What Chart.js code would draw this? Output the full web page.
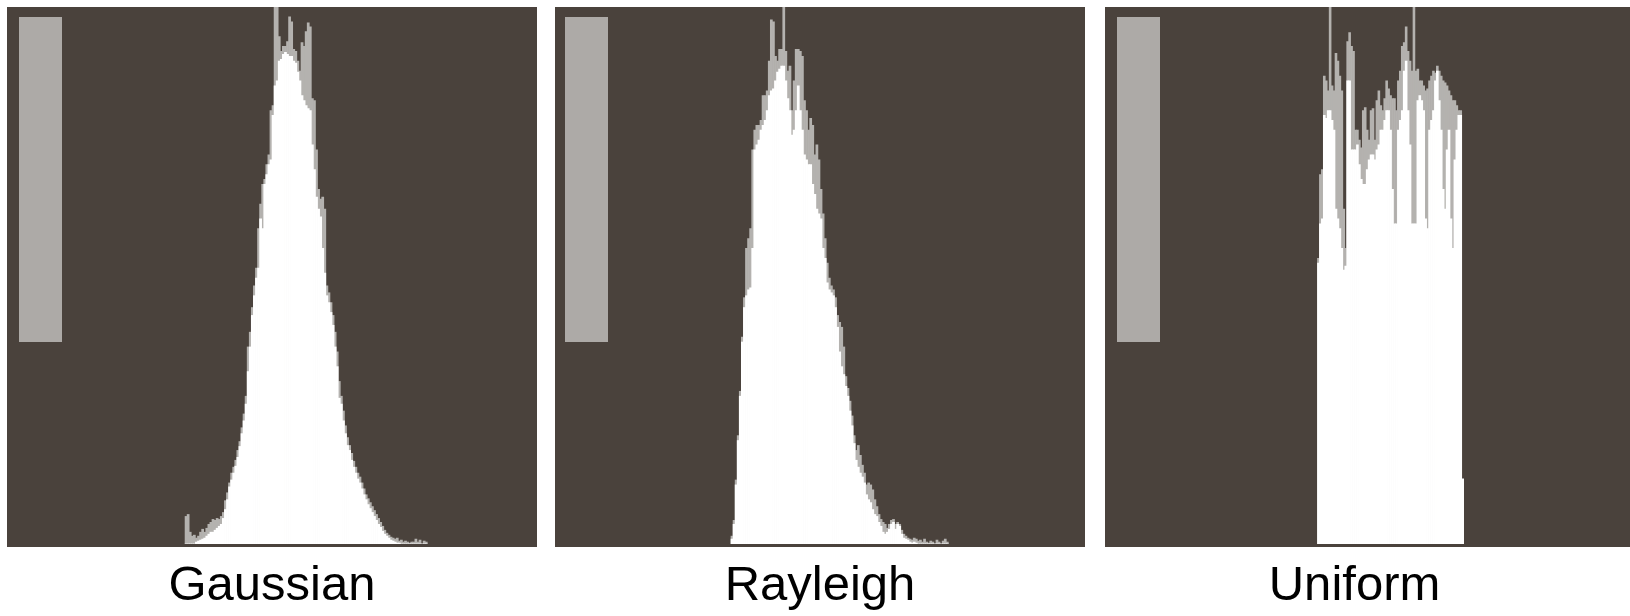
<!DOCTYPE html>
<html>
<head>
<meta charset="utf-8">
<script src="https://cdn.jsdelivr.net/npm/chart.js@4.4.1/dist/chart.umd.min.js"></script>
<style>
  html, body { margin: 0; padding: 0; background: #fff; overflow: hidden; }
  .panel { position: absolute; top: 0; height: 616px; }
</style>
</head>
<body>
<div class="panel" style="left:7px;width:530px"><canvas id="gauss"></canvas></div>
<div class="panel" style="left:555px;width:530px"><canvas id="rayleigh"></canvas></div>
<div class="panel" style="left:1105px;width:525px"><canvas id="uniform"></canvas></div>
<script>
// grey levels 0..255, one bar per level
const bins = Array.from({length: 256}, (_, i) => String(i));

// histogram heights (relative counts), starting at the first non-empty level
const gaussStart = 86;
const gaussWhite = [
  0, 0, 0, 0, 0, 0.4, 0.6, 0.8, 1, 1.2,
  1.6, 2, 2.4, 2.4, 2.8, 3.2, 3.6, 4, 5.2, 7,
  9, 11.6, 13, 14.4, 15.8, 17.6, 19.8, 22.4, 25, 28.4,
  35, 40, 46.4, 50.4, 54, 56, 66, 64, 73, 75,
  77, 78, 87, 93, 94, 98, 98.4, 99.4, 99.8, 99.4,
  99, 99, 98, 97.6, 95.8, 94, 91, 90, 89, 88.4,
  88, 81, 76, 70.4, 68, 66.4, 60, 55, 50.4, 49,
  47, 44.4, 40, 36, 29.6, 28.4, 25, 22.4, 20, 19,
  17, 15.6, 14.4, 13.2, 12.4, 11.2, 10, 9, 8, 7.2,
  6.4, 5.6, 4.8, 4, 3.4, 2.6, 2, 1.6, 1.2, 0.8,
  0.6, 0.4, 0.2, 0.2, 0, 0, 0, 0, 0, 0,
  0, 0, 0, 0, 0, 0, 0
];
const gaussGray = [
  5.6, 6, 2.4, 1.6, 1.8, 1.2, 1.6, 2.4, 3, 2.4,
  3.2, 4, 4.4, 5, 4.8, 5.2, 5, 5.6, 6.4, 8.8,
  10.4, 12.4, 14.4, 15.6, 17, 19, 20.8, 23.6, 26.4, 30,
  40, 43, 48, 52.4, 56, 64, 69, 73, 74, 77,
  79, 88, 89, 109, 109, 103, 100, 101, 101, 102,
  107, 106, 100.4, 100, 98, 96, 101.8, 101, 104, 105.8,
  105, 90.4, 90, 80, 72, 70, 70.4, 68, 52.4, 51,
  49, 46.4, 43, 39, 33, 30, 27, 24, 21.6, 20,
  18.4, 16.8, 15.6, 14.4, 13.6, 12.4, 11.2, 10, 9.2, 8.4,
  7.6, 6.8, 6, 5.2, 4.4, 3.6, 2.8, 2.2, 1.8, 1.4,
  1.2, 1, 1.2, 0.6, 0.8, 0.4, 0.6, 0.4, 0.2, 0.4,
  0.4, 1, 0.4, 0.8, 0, 0.6, 0.4
];

const rayleighStart = 85;
const rayleighWhite = [
  1, 4, 12, 21, 30, 41, 48, 50.4, 51.6, 52,
  60, 80, 81, 82, 84, 85, 86, 88, 91, 92,
  92.4, 94, 95.8, 96.4, 97, 97, 94, 90.4, 88, 83,
  84, 88, 93, 88, 84, 79, 78, 77, 77, 73,
  71, 68, 67, 66, 60, 58, 53, 51.6, 51, 50.4,
  48, 44, 39, 36, 34.4, 32, 30, 27, 24, 20.4,
  17, 15.6, 14.4, 13.6, 12.4, 10, 9, 8.4, 7, 6,
  5.6, 4.4, 3.6, 2.4, 2, 2.4, 3, 4, 4.4, 3,
  4, 3.6, 2, 1.2, 1, 0.8, 0.4, 0.2, 0.4, 0.2,
  0, 0, 0, 0, 0, 0, 0, 0, 0, 0,
  0, 0, 0, 0, 0
];
const rayleighGray = [
  1.6, 4.8, 13, 22, 31, 42, 50, 60, 62, 64,
  80, 84, 85, 85, 86, 91, 91, 92, 98, 106.4,
  106, 99, 98, 100.4, 100.4, 109, 100, 96, 97, 88,
  94, 100.4, 100.4, 100, 99, 90, 88, 84, 86.4, 85,
  79, 81, 78, 72, 67, 62, 57, 54, 52.4, 51.6,
  50, 46.4, 45, 44, 40, 34, 31.6, 29, 26, 22,
  19, 20, 18, 16, 14.4, 12, 12.4, 12, 11, 9,
  7.6, 6, 5, 4.4, 4, 3.2, 4, 4.8, 5, 4,
  4.4, 4, 2.8, 2, 1.6, 1.2, 1, 0.8, 1.2, 1,
  0.6, 0.8, 0.4, 1, 0.4, 0.2, 0.6, 0.4, 0, 0.8,
  0.4, 0, 0.6, 1, 0.4
];

const uniformStart = 109;
const uniformWhite = [
  57, 65, 66, 87, 86.4, 88, 88, 86, 84, 68,
  66, 64, 60, 55.6, 56.4, 94, 94, 80, 80, 80,
  81, 77, 74, 73, 73, 76, 78, 79, 79, 78,
  80, 81, 84, 84, 86, 88, 88, 84, 72, 65,
  65, 84, 86, 88, 96, 98, 88, 81, 65, 65,
  65, 90, 91, 90, 88, 66, 64, 84, 86, 88,
  94, 96, 90, 84, 72, 68, 80, 84, 66, 60,
  78, 84, 87, 87, 13.2
];
const uniformGray = [
  58, 75, 76, 95, 94, 92, 109, 93, 92, 99.6,
  98, 95, 92, 68, 60, 102, 103.8, 101, 100, 84,
  84, 82, 80.4, 88, 88.6, 84, 82, 88, 88.4, 82,
  90, 92, 89, 88, 90.4, 94, 92.4, 91, 90.4, 90.4,
  88, 94, 96, 101, 101.8, 105, 100, 98, 96, 109,
  96, 96.4, 94, 94, 93, 92, 92.4, 94, 95, 96,
  95.6, 97, 96, 95, 94, 93.6, 93, 92, 91, 90,
  90, 89, 88, 88, 13.2
];

// place a run of values onto the full 0..255 level axis
function spread(start, values) {
  const out = new Array(bins.length).fill(null);
  values.forEach((v, i) => { out[start + i] = v; });
  return out;
}

// dark panel plus the grey noise sample strip
const panelBackground = {
  id: 'panelBackground',
  beforeDatasetsDraw(chart, args, opts) {
    const {ctx, chartArea: a} = chart;
    ctx.save();
    ctx.fillStyle = '#4a423c';
    ctx.fillRect(a.left, a.top, chart.width - a.left, a.bottom - a.top + 3);
    ctx.fillStyle = '#adaaa7';
    ctx.fillRect(a.left + opts.swatchX, a.top + 10, 43, 325);
    ctx.restore();
  }
};

function histChart(id, label, start, white, gray, padRight, swatchX) {
  return new Chart(document.getElementById(id), {
    type: 'bar',
    data: {
      labels: bins,
      datasets: [
        { label: label, data: spread(start, white), backgroundColor: '#ffffff', grouped: false },
        { label: label + ' spread', data: spread(start, gray), backgroundColor: '#b4b2af', grouped: false }
      ]
    },
    options: {
      responsive: true,
      maintainAspectRatio: false,
      animation: false,
      layout: { padding: { top: 7, right: padRight } },
      datasets: { bar: { barPercentage: 1, categoryPercentage: 1, borderWidth: 0 } },
      plugins: {
        legend: { display: false },
        tooltip: { enabled: false },
        panelBackground: { swatchX: swatchX }
      },
      scales: {
        x: {
          grid: { display: false },
          border: { display: false },
          ticks: { display: false },
          title: {
            display: true,
            text: label,
            color: '#000',
            font: { family: '"Liberation Sans", Arial, sans-serif', size: 49 },
            padding: { top: 4.7, bottom: 0.5 }
          }
        },
        y: { display: false, min: 0, max: 109 }
      }
    },
    plugins: [panelBackground]
  });
}

histChart('gauss', 'Gaussian', gaussStart, gaussWhite, gaussGray, 0, 12);
histChart('rayleigh', 'Rayleigh', rayleighStart, rayleighWhite, rayleighGray, 0, 10);
histChart('uniform', 'Uniform', uniformStart, uniformWhite, uniformGray, 26, 12);
</script>
</body>
</html>
